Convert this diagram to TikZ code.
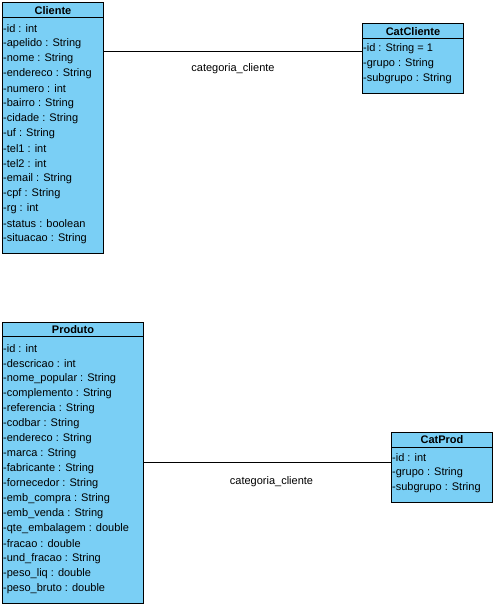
\documentclass[tikz,border=0pt]{standalone}
\usepackage{fontspec}
\setmainfont{Liberation Sans}
\usetikzlibrary{positioning,calc}
\definecolor{classblue}{RGB}{122,207,245}
\tikzset{
  classbox/.style={draw=black, fill=classblue, line width=1pt, anchor=north west, inner sep=0pt},
  classname/.style={font=\fontsize{11}{13}\selectfont\bfseries, inner sep=0pt},
  attr/.style={font=\fontsize{11}{13}\selectfont, anchor=west, inner sep=0pt},
  assoc/.style={line width=1pt, draw=black},
  assoclabel/.style={font=\fontsize{11}{13}\selectfont, inner sep=0pt}
}

\begin{document}
\begin{tikzpicture}[x=1pt,y=-1pt]
  \useasboundingbox (0,0) rectangle (496,606);
  % Cliente
  \node[classbox, minimum width=101pt, minimum height=251pt] (cliente) at (2,2) {};
  \node[classname] (clientetitle) at ($(cliente.north)+(0,8.5)$) {Cliente};
  \draw[line width=1pt] ($(cliente.north west)+(0,15)$) -- ($(cliente.north east)+(0,15)$);
  \foreach \a [count=\i from 0] in {-id : int, -apelido : String, -nome : String, -endereco : String,
      -numero : int, -bairro : String, -cidade : String, -uf : String, -tel1 : int, -tel2 : int,
      -email : String, -cpf : String, -rg : int, -status : boolean, -situacao : String}
    \node[attr] (cliente\i) at ($(cliente.north west)+(1,26.5+15*\i)$) {\a};
  % CatCliente
  \node[classbox, minimum width=101pt, minimum height=70pt] (catcliente) at (362,23) {};
  \node[classname] (catclientetitle) at ($(catcliente.north)+(0,8.5)$) {CatCliente};
  \draw[line width=1pt] ($(catcliente.north west)+(0,15)$) -- ($(catcliente.north east)+(0,15)$);
  \foreach \a [count=\i from 0] in {-id : String = 1, -grupo : String, -subgrupo : String}
    \node[attr] (catcliente\i) at ($(catcliente.north west)+(1,25.5+15*\i)$) {\a};
  % Produto
  \node[classbox, minimum width=141pt, minimum height=281pt] (produto) at (2,322) {};
  \node[classname] (produtotitle) at ($(produto.north)+(0,7.5)$) {Produto};
  \draw[line width=1pt] ($(produto.north west)+(0,14)$) -- ($(produto.north east)+(0,14)$);
  \foreach \a [count=\i from 0] in {-id : int, -descricao : int, -nome\_popular : String,
      -complemento : String, -referencia : String, -codbar : String, -endereco : String,
      -marca : String, -fabricante : String, -fornecedor : String, -emb\_compra : String,
      -emb\_venda : String, -qte\_embalagem : double, -fracao : double, -und\_fracao : String,
      -peso\_liq : double, -peso\_bruto : double}
    \node[attr] (produto\i) at ($(produto.north west)+(1,26.5+15*\i)$) {\a};
  % CatProd
  \node[classbox, minimum width=101pt, minimum height=70pt] (catprod) at (391,432) {};
  \node[classname] (catprodtitle) at ($(catprod.north)+(0,7.5)$) {CatProd};
  \draw[line width=1pt] ($(catprod.north west)+(0,15)$) -- ($(catprod.north east)+(0,15)$);
  \foreach \a [count=\i from 0] in {-id : int, -grupo : String, -subgrupo : String}
    \node[attr] (catprod\i) at ($(catprod.north west)+(1,26+15*\i)$) {\a};
  % associations
  \draw[assoc] (cliente.east |- 0,51) -- node[assoclabel, yshift=-17.5pt] (clientelabel) {categoria\_cliente} (catcliente.west |- 0,51);
  \draw[assoc] (produto.east |- 0,462) -- node[assoclabel, yshift=-19.5pt, xshift=4pt] (produtolabel) {categoria\_cliente} (catprod.west |- 0,462);
\end{tikzpicture}
\end{document}
